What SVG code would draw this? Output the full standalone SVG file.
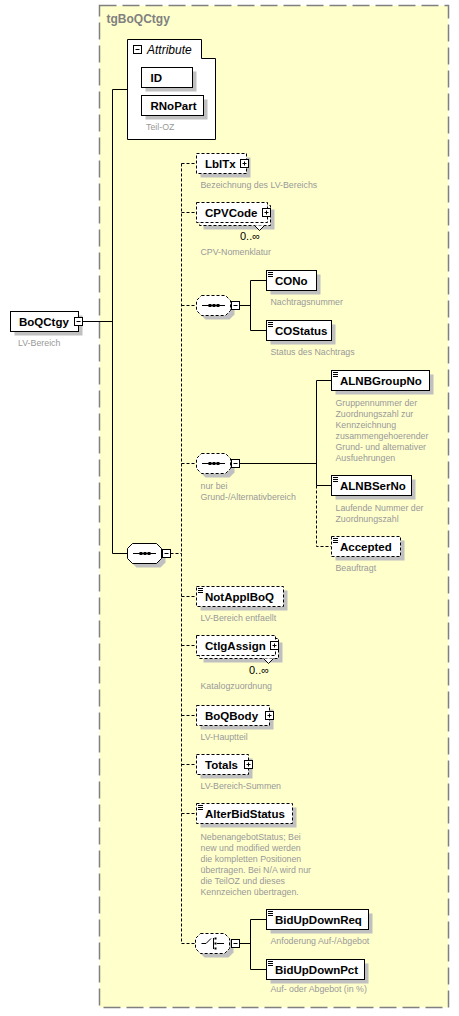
<svg xmlns="http://www.w3.org/2000/svg" width="459" height="1016" viewBox="0 0 459 1016">
<style>
.grp{fill:#FFFFCC;stroke:#808080;stroke-width:1.5;stroke-dasharray:17,6}
.ttl{font:bold 12px "Liberation Sans",Arial,sans-serif;fill:#808080}
.box{fill:#fff;stroke:#000;stroke-width:1}
.opt{stroke-dasharray:3,2}
.sh{fill:#c0c0c0;stroke:none}
.nm{font:bold 11.5px "Liberation Sans",Arial,sans-serif;fill:#000}
.it{font:italic 12px "Liberation Sans",Arial,sans-serif;fill:#000}
.ds{font:8.8px "Liberation Sans",Arial,sans-serif;fill:#999}
.occ{font:11px "Liberation Sans",Arial,sans-serif;fill:#000}
.ln{stroke:#000;stroke-width:1;fill:none}
.dash{stroke-dasharray:3,2}
.btn{fill:#fff;stroke:#000;stroke-width:1}
.ic{stroke:#000;stroke-width:1;fill:none}
.dot{fill:#000}
</style>
<defs>
<path id="oct" d="M5,0H29L34,5V15L29,20H5L0,15V5Z"/>
<g id="seqicon"><path class="ic" d="M5.5,10H28.5"/><rect class="dot" x="12" y="8.5" width="3" height="3"/><rect class="dot" x="16" y="8.5" width="3" height="3"/><rect class="dot" x="20" y="8.5" width="3" height="3"/></g>
<g id="minus"><rect class="btn" x="-4" y="-4" width="8" height="8"/><path class="ic" d="M-2,0H2"/></g>
<g id="plus"><rect class="btn" x="-4" y="-4" width="8" height="8"/><path class="ic" d="M-2,0H2M0,-2V2"/></g>
<g id="simp"><path class="ic" d="M1.5,2H6.5M1.5,4H6.5M1.5,6H6.5"/></g>
</defs>
<rect x="0" y="0" width="459" height="1016" fill="#fff"/>
<g id="tgBoQCtgy">
<rect class="grp" x="99.5" y="5.5" width="349" height="1002"/>
<text class="ttl" x="106.5" y="23">tgBoQCtgy</text>
</g>
<g id="connectors">
<path class="ln" d="M82.5,321.5H112.5M112.5,89.5V553.5M112.5,89.5H127.5M112.5,553.5H127.5"/>
<path class="ln dash" d="M170.5,553.5H181.5M181.5,163.5V943.5M181.5,163.5H196.5M181.5,212.5H196.5M181.5,305.5H196.5M181.5,463.5H196.5M181.5,596.5H196.5M181.5,645.5H196.5M181.5,715.5H196.5M181.5,764.5H196.5M181.5,813.5H196.5M181.5,943.5H195.5"/>
<path class="ln" d="M239.5,305.5H250.5M250.5,280.5V330.5M250.5,280.5H266.5M250.5,330.5H266.5"/>
<path class="ln" d="M239.5,463.5H316.5M316.5,380.5V485.5M316.5,380.5H331.5M316.5,485.5H331.5"/>
<path class="ln dash" d="M316.5,485.5V546.5H331.5"/>
<path class="ln" d="M239.5,943.5H250.5M250.5,919.5V969.5M250.5,919.5H266.5M250.5,969.5H266.5"/>
</g>
<g id="Attribute">
<path class="box" d="M127.5,39.5H201.5V58.5H215.5V139.5H127.5Z"/>
<use href="#minus" x="137.5" y="49.5"/>
<text class="it" x="147" y="54">Attribute</text>
</g>
<g id="ID">
<rect class="sh" x="145.5" y="71.5" width="51" height="20"/>
<rect class="box" x="141.5" y="67.5" width="51" height="20"/>
<text class="nm" x="150.5" y="82">ID</text>
</g>
<g id="RNoPart">
<rect class="sh" x="145.5" y="99.5" width="62" height="20"/>
<rect class="box" x="141.5" y="95.5" width="62" height="20"/>
<text class="nm" x="150.5" y="110">RNoPart</text>
<text class="ds" x="146" y="130">Teil-OZ</text>
</g>
<g id="BoQCtgy">
<rect class="sh" x="14.5" y="315.5" width="68" height="20"/>
<rect class="box" x="10.5" y="311.5" width="68" height="20"/>
<text class="nm" x="19" y="326">BoQCtgy</text>
<use href="#minus" x="78.5" y="321.5"/>
<text class="ds" x="18" y="345.5">LV-Bereich</text>
</g>
<g id="sequence">
<use href="#oct" x="131.5" y="547.5" class="sh"/>
<use href="#oct" x="127.5" y="543.5" class="box"/>
<use href="#seqicon" x="127.5" y="543.5"/>
<use href="#minus" x="166.5" y="553.5"/>
</g>
<g id="LblTx">
<rect class="sh" x="200.5" y="157.5" width="50" height="20"/>
<rect class="box opt" x="196.5" y="153.5" width="50" height="20"/>
<text class="nm" x="205" y="168">LblTx</text>
<use href="#plus" x="244.5" y="163.5"/>
<text class="ds" x="200.5" y="188">Bezeichnung des LV-Bereichs</text>
</g>
<g id="CPVCode">
<rect class="sh" x="203.5" y="209.5" width="71" height="20"/>
<rect class="box opt" x="199.5" y="205.5" width="71" height="20"/>
<rect class="box opt" x="196.5" y="202.5" width="71" height="20"/>
<path class="box" d="M254.5,225.5L259.5,230.5L264.5,225.5"/>
<text class="nm" x="205" y="217">CPVCode</text>
<use href="#plus" x="266.5" y="212.5"/>
<text class="occ" x="240" y="240">0..∞</text>
<text class="ds" x="200.5" y="255">CPV-Nomenklatur</text>
</g>
<g id="sequence2">
<use href="#oct" x="200.5" y="299.5" class="sh"/>
<use href="#oct" x="196.5" y="295.5" class="box opt"/>
<use href="#seqicon" x="196.5" y="295.5"/>
<use href="#minus" x="235.5" y="305.5"/>
</g>
<g id="CONo">
<rect class="sh" x="270.5" y="274.5" width="50" height="20"/>
<rect class="box" x="266.5" y="270.5" width="50" height="20"/>
<use href="#simp" x="266.5" y="270.5"/>
<text class="nm" x="275" y="285">CONo</text>
<text class="ds" x="270.5" y="305">Nachtragsnummer</text>
</g>
<g id="COStatus">
<rect class="sh" x="270.5" y="324.5" width="65" height="20"/>
<rect class="box" x="266.5" y="320.5" width="65" height="20"/>
<use href="#simp" x="266.5" y="320.5"/>
<text class="nm" x="275" y="335">COStatus</text>
<text class="ds" x="270.5" y="354.5">Status des Nachtrags</text>
</g>
<g id="sequence3">
<use href="#oct" x="200.5" y="457.5" class="sh"/>
<use href="#oct" x="196.5" y="453.5" class="box opt"/>
<use href="#seqicon" x="196.5" y="453.5"/>
<use href="#minus" x="235.5" y="463.5"/>
<text class="ds" x="200.5" y="488.5">nur bei</text>
<text class="ds" x="200.5" y="499.5">Grund-/Alternativbereich</text>
</g>
<g id="ALNBGroupNo">
<rect class="sh" x="335.5" y="374.5" width="98" height="20"/>
<rect class="box" x="331.5" y="370.5" width="98" height="20"/>
<use href="#simp" x="331.5" y="370.5"/>
<text class="nm" x="340" y="385">ALNBGroupNo</text>
<text class="ds"><tspan x="335.5" y="406">Gruppennummer der</tspan><tspan x="335.5" y="417">Zuordnungszahl zur</tspan><tspan x="335.5" y="428">Kennzeichnung</tspan><tspan x="335.5" y="439">zusammengehoerender</tspan><tspan x="335.5" y="450">Grund- und alternativer</tspan><tspan x="335.5" y="461">Ausfuehrungen</tspan></text>
</g>
<g id="ALNBSerNo">
<rect class="sh" x="335.5" y="479.5" width="80" height="20"/>
<rect class="box" x="331.5" y="475.5" width="80" height="20"/>
<use href="#simp" x="331.5" y="475.5"/>
<text class="nm" x="340" y="490">ALNBSerNo</text>
<text class="ds"><tspan x="335.5" y="511">Laufende Nummer der</tspan><tspan x="335.5" y="522">Zuordnungszahl</tspan></text>
</g>
<g id="Accepted">
<rect class="sh" x="335.5" y="540.5" width="69" height="20"/>
<rect class="box opt" x="331.5" y="536.5" width="69" height="20"/>
<use href="#simp" x="331.5" y="536.5"/>
<text class="nm" x="340" y="551">Accepted</text>
<text class="ds" x="335.5" y="571">Beauftragt</text>
</g>
<g id="NotApplBoQ">
<rect class="sh" x="200.5" y="590.5" width="87" height="20"/>
<rect class="box opt" x="196.5" y="586.5" width="87" height="20"/>
<use href="#simp" x="196.5" y="586.5"/>
<text class="nm" x="205" y="601">NotApplBoQ</text>
<text class="ds" x="200.5" y="621">LV-Bereich entfaellt</text>
</g>
<g id="CtlgAssign">
<rect class="sh" x="203.5" y="642.5" width="79" height="20"/>
<rect class="box opt" x="199.5" y="638.5" width="79" height="20"/>
<rect class="box opt" x="196.5" y="635.5" width="79" height="20"/>
<path class="box" d="M263.5,658.5L268.5,663.5L273.5,658.5"/>
<text class="nm" x="205" y="650">CtlgAssign</text>
<use href="#plus" x="274.5" y="645.5"/>
<text class="occ" x="249" y="674">0..∞</text>
<text class="ds" x="200.5" y="689">Katalogzuordnung</text>
</g>
<g id="BoQBody">
<rect class="sh" x="200.5" y="709.5" width="73" height="20"/>
<rect class="box opt" x="196.5" y="705.5" width="73" height="20"/>
<text class="nm" x="205" y="720">BoQBody</text>
<use href="#plus" x="269.5" y="715.5"/>
<text class="ds" x="200.5" y="739.5">LV-Hauptteil</text>
</g>
<g id="Totals">
<rect class="sh" x="200.5" y="758.5" width="52" height="20"/>
<rect class="box opt" x="196.5" y="754.5" width="52" height="20"/>
<text class="nm" x="205" y="769">Totals</text>
<use href="#plus" x="248.5" y="764.5"/>
<text class="ds" x="200.5" y="788.5">LV-Bereich-Summen</text>
</g>
<g id="AlterBidStatus">
<rect class="sh" x="200.5" y="807.5" width="96" height="20"/>
<rect class="box opt" x="196.5" y="803.5" width="96" height="20"/>
<use href="#simp" x="196.5" y="803.5"/>
<text class="nm" x="205" y="818">AlterBidStatus</text>
<text class="ds"><tspan x="200.5" y="840">NebenangebotStatus; Bei</tspan><tspan x="200.5" y="851">new und modified werden</tspan><tspan x="200.5" y="862">die kompletten Positionen</tspan><tspan x="200.5" y="873">übertragen. Bei N/A wird nur</tspan><tspan x="200.5" y="884">die TeilOZ und dieses</tspan><tspan x="200.5" y="895">Kennzeichen übertragen.</tspan></text>
</g>
<g id="choice">
<use href="#oct" x="199.5" y="937.5" class="sh"/>
<use href="#oct" x="195.5" y="933.5" class="box opt"/>
<path class="ic" d="M201.5,943.5H206L211,938.5M213.5,938V949M217,943.5H224"/>
<rect class="dot" x="214.5" y="937.5" width="2" height="2"/>
<rect class="dot" x="214.5" y="942.5" width="2" height="2"/>
<rect class="dot" x="214.5" y="947.5" width="2" height="2"/>
<use href="#minus" x="235.5" y="943.5"/>
</g>
<g id="BidUpDownReq">
<rect class="sh" x="270.5" y="913.5" width="102" height="20"/>
<rect class="box" x="266.5" y="909.5" width="102" height="20"/>
<use href="#simp" x="266.5" y="909.5"/>
<text class="nm" x="275" y="924">BidUpDownReq</text>
<text class="ds" x="270.5" y="943.5">Anfoderung Auf-/Abgebot</text>
</g>
<g id="BidUpDownPct">
<rect class="sh" x="270.5" y="963.5" width="98" height="20"/>
<rect class="box" x="266.5" y="959.5" width="98" height="20"/>
<use href="#simp" x="266.5" y="959.5"/>
<text class="nm" x="275" y="974">BidUpDownPct</text>
<text class="ds" x="270.5" y="992">Auf- oder Abgebot (in %)</text>
</g>
</svg>
